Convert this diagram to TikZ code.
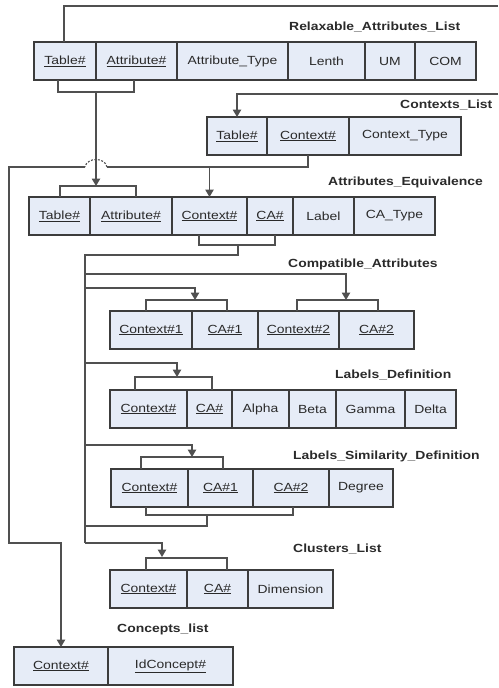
\documentclass[tikz,border=0pt]{standalone}
\usepackage{fontspec}
\setmainfont{Liberation Sans}[FakeStretch=1.18]
\usetikzlibrary{arrows.meta}

\definecolor{cellfill}{HTML}{E6ECF7}
\definecolor{cellline}{HTML}{3C3C3C}
\definecolor{linkline}{HTML}{505050}
\definecolor{inktext}{HTML}{2A2A2A}

\newcommand\keyf[1]{\underline{#1}}
% one table cell: name, left x, right x, top y, text
\newcommand\tcell[5]{\node[cell, minimum width={#3-#2}, anchor=north west] (#1) at (#2,#4) {#5};}

\tikzset{
  cell/.style={draw=cellline, fill=cellfill, line width=1.4pt, inner sep=0pt, outer sep=0pt,
    minimum height=38pt, text=inktext, font=\fontsize{11.8}{14}\selectfont},
  tabletitle/.style={anchor=west, inner sep=0pt, text=inktext, font=\fontsize{11.8}{14}\selectfont\bfseries},
  link/.style={draw=linkline, line width=1.1pt},
  arrowlink/.style={link, -{Triangle[length=7.5pt,width=8.5pt]}},
}

\begin{document}
\begin{tikzpicture}[x=1pt,y=-1pt]
\useasboundingbox (0,0) rectangle (498,688);

% ---- tables ----
\tcell{ra-t}{34}{96}{42}{\keyf{Table\#}}
\tcell{ra-a}{96}{177}{42}{\keyf{Attribute\#}}
\tcell{ra-ty}{177}{288}{42}{Attribute\_Type}
\tcell{ra-l}{288}{365}{42}{Lenth}
\tcell{ra-u}{365}{415}{42}{UM}
\tcell{ra-co}{415}{476}{42}{COM}
\node[tabletitle] (ra-title) at (289,27) {Relaxable\_Attributes\_List};

\tcell{cl-t}{207}{267}{117}{\keyf{Table\#}}
\tcell{cl-c}{267}{349}{117}{\keyf{Context\#}}
\tcell{cl-ty}{349}{461}{117}{Context\_Type}
\node[tabletitle] (cl-title) at (400,105) {Contexts\_List};

\tcell{ae-t}{29}{90}{197}{\keyf{Table\#}}
\tcell{ae-a}{90}{172}{197}{\keyf{Attribute\#}}
\tcell{ae-c}{172}{247}{197}{\keyf{Context\#}}
\tcell{ae-ca}{247}{293}{197}{\keyf{CA\#}}
\tcell{ae-l}{293}{354}{197}{Label}
\tcell{ae-ty}{354}{435}{197}{CA\_Type}
\node[tabletitle] (ae-title) at (328,182) {Attributes\_Equivalence};

\tcell{ca-c1}{110}{192}{311}{\keyf{Context\#1}}
\tcell{ca-a1}{192}{258}{311}{\keyf{CA\#1}}
\tcell{ca-c2}{258}{339}{311}{\keyf{Context\#2}}
\tcell{ca-a2}{339}{414}{311}{\keyf{CA\#2}}
\node[tabletitle] (ca-title) at (288,264) {Compatible\_Attributes};

\tcell{ld-c}{110}{187}{390}{\keyf{Context\#}}
\tcell{ld-a}{187}{232}{390}{\keyf{CA\#}}
\tcell{ld-al}{232}{289}{390}{Alpha}
\tcell{ld-be}{289}{336}{390}{Beta}
\tcell{ld-ga}{336}{405}{390}{Gamma}
\tcell{ld-de}{405}{456}{390}{Delta}
\node[tabletitle] (ld-title) at (335,375) {Labels\_Definition};

\tcell{ls-c}{111}{188}{469}{\keyf{Context\#}}
\tcell{ls-a1}{188}{253}{469}{\keyf{CA\#1}}
\tcell{ls-a2}{253}{329}{469}{\keyf{CA\#2}}
\tcell{ls-d}{329}{393}{469}{Degree}
\node[tabletitle] (ls-title) at (293,456) {Labels\_Similarity\_Definition};

\tcell{cu-c}{110}{187}{570}{\keyf{Context\#}}
\tcell{cu-a}{187}{248}{570}{\keyf{CA\#}}
\tcell{cu-d}{248}{333}{570}{Dimension}
\node[tabletitle] (cu-title) at (293,549) {Clusters\_List};

\tcell{cc-c}{14}{108}{647}{\keyf{Context\#}}
\tcell{cc-i}{108}{233}{647}{\keyf{IdConcept\#}}
\node[tabletitle] (cc-title) at (117,629) {Concepts\_list};

% ---- junction points ----
\coordinate (top-out) at (498,6);
\coordinate (ctx-in) at (498,94);
\coordinate (ra-mid) at (96,92);
\coordinate (ae-top) at (96,186);
\coordinate (ctx-bend) at (308,167);
\coordinate (hop-r) at (107,167);
\coordinate (hop-l) at (85,167);
\coordinate (left-bend) at (9,543);
\coordinate (ae-mid) at (238,245);
\coordinate (trunk-top) at (85,255);
\coordinate (trunk-bot) at (85,543);
\coordinate (br-ca2) at (85,274);
\coordinate (br-ca1) at (85,288);
\coordinate (br-ld) at (85,363);
\coordinate (br-ls) at (85,445);
\coordinate (br-back) at (85,526);
\coordinate (ca-k2) at (346,300);
\coordinate (ca-k1) at (195,300);
\coordinate (ld-k) at (177,377);
\coordinate (ls-k) at (192,457);
\coordinate (ls-mid) at (207,515);
\coordinate (cu-k) at (162,557);

% ---- key brackets ----
\draw[link] ([xshift=-7]ra-t.south) -- ++(0,12) -| ([xshift=-2.5]ra-a.south);
\draw[link] ([xshift=0.5]ae-t.north) -- ++(0,-11) -| ([xshift=5]ae-a.north);
\draw[link] ([xshift=-10.5]ae-c.south) -- ++(0,10) -| ([xshift=5]ae-ca.south);
\draw[link] ([xshift=-5]ca-c1.north) -- ++(0,-11) -| ([xshift=2]ca-a1.north);
\draw[link] ([xshift=-1.5]ca-c2.north) -- ++(0,-11) -| ([xshift=1.5]ca-a2.north);
\draw[link] ([xshift=-13.5]ld-c.north) -- ++(0,-13) -| ([xshift=2.5]ld-a.north);
\draw[link] ([xshift=-8.5]ls-c.north) -- ++(0,-12) -| ([xshift=2.5]ls-a1.north);
\draw[link] ([xshift=-3.5]ls-c.south) -- ++(0,8) -| ([xshift=2]ls-a2.south);
\draw[link] ([xshift=-2.5]cu-c.north) -- ++(0,-12) -| ([xshift=9.5]cu-a.north);

% ---- connectors ----
\draw[link] ([xshift=-1]ra-t.north) |- (top-out);
\draw[arrowlink] (ctx-in) -| (cl-t.north);
\draw[arrowlink] (ra-mid) -- (ae-top);
\draw[link] (cl-c.south) |- (hop-r);
\draw[link, dash pattern=on 2pt off 1.5pt] (hop-r) .. controls (105,157) and (87,157) .. (hop-l);
\draw[arrowlink] (hop-l) -| (left-bend) -| (cc-c.north);
\draw[arrowlink] (ae-c.north |- ctx-bend) -- (ae-c.north);
\draw[link] (ae-mid) |- (trunk-top) -- (trunk-bot);
\draw[arrowlink] (trunk-bot) -| (cu-k);
\draw[arrowlink] (br-ca2) -| (ca-k2);
\draw[arrowlink] (br-ca1) -| (ca-k1);
\draw[arrowlink] (br-ld) -| (ld-k);
\draw[arrowlink] (br-ls) -| (ls-k);
\draw[link] (ls-mid) |- (br-back);
\end{tikzpicture}
\end{document}
